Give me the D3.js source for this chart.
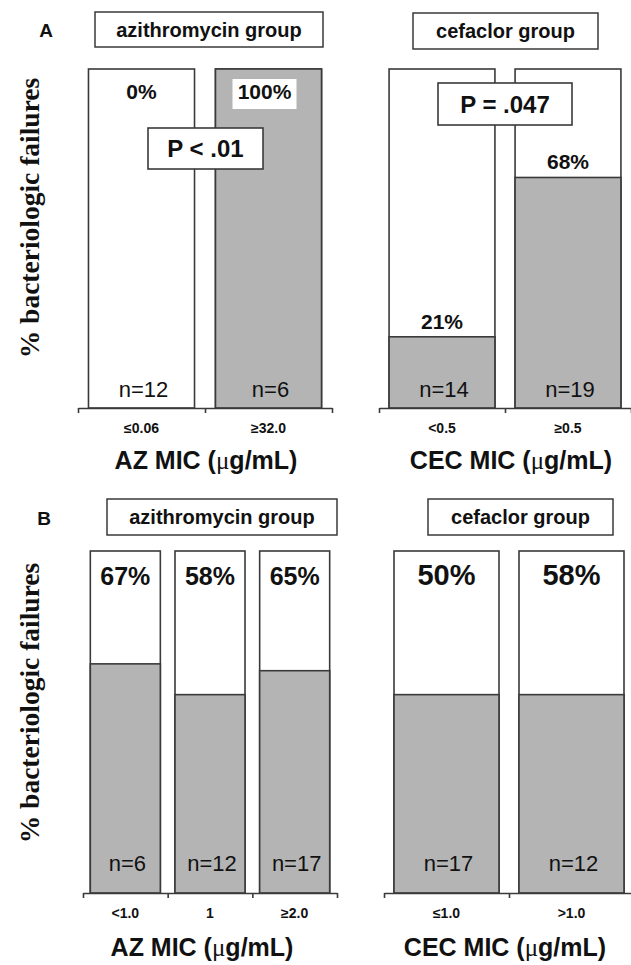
<!DOCTYPE html>
<html>
<head>
<meta charset="utf-8">
<script src="https://cdn.jsdelivr.net/npm/d3@7"></script>
<style>
  html, body { margin: 0; padding: 0; background: #fff; }
  svg { display: block; }
  text { font-family: "Liberation Sans", Arial, Helvetica, sans-serif; fill: #111; }
</style>
</head>
<body>
<svg id="chart" width="631" height="965"></svg>
<script>
// ---------------- DATA ----------------
const groupNames = ["azithromycin group", "cefaclor group"];
const yAxisLabel = "% bacteriologic failures";
const panelLetters = ["A", "B"];

// Panel A (label %, height of shaded bar in %, n)
const azCatsA = ["≤0.06", "≥32.0"];
const azFailA = [0, 100];
const azShadeA = [0, 100];
const azNA = [12, 6];
const cecCatsA = ["<0.5", "≥0.5"];
const cecFailA = [21, 68];
const cecShadeA = [21, 68];
const cecNA = [14, 19];
const pValuesA = ["P < .01", "P = .047"];

// Panel B
const azCatsB = ["<1.0", "1", "≥2.0"];
const azFailB = [67, 58, 65];
const azShadeB = [67, 58, 65];
const azNB = [6, 12, 17];
const cecCatsB = ["≤1.0", ">1.0"];
const cecFailB = [50, 58];
const cecShadeB = [58, 58];
const cecNB = [17, 12];

const axisTitlePrefix = ["AZ MIC (", "CEC MIC ("];
const axisTitleUnit = "μ";
const axisTitleSuffix = "g/mL)";

// ---------------- LAYOUT ----------------
const svg = d3.select("#chart");
const stroke = "#3a3a3a";
const shade = "#b4b4b4";

const rows = [
  { letter: panelLetters[0], top: 69, bottom: 408, letterPos: [46, 37], ylabelY: 218,
    tickY: 433, titleY: 469, labelMode: "above", pctSize: 21, nY: 397,
    panels: [
      { cats: azCatsA, fail: azFailA, shadeV: azShadeA, n: azNA, range: [78, 332], pad: 0.165,
        box: [95, 12, 228, 35], group: groupNames[0], title: axisTitlePrefix[0], titleX: 206,
        pbox: [148, 128, 115, 41], p: pValuesA[0] },
      { cats: cecCatsA, fail: cecFailA, shadeV: cecShadeA, n: cecNA, range: [379, 631], pad: 0.16,
        box: [413, 13, 185, 36], group: groupNames[1], title: axisTitlePrefix[1], titleX: 511,
        pbox: [438, 83, 134, 42], p: pValuesA[1] }
    ]},
  { letter: panelLetters[1], top: 551, bottom: 893, letterPos: [44, 525], ylabelY: 703,
    tickY: 918, titleY: 956, labelMode: "top", nY: 871,
    panels: [
      { cats: azCatsB, fail: azFailB, shadeV: azShadeB, n: azNB, range: [83, 337], pad: 0.173,
        box: [107, 499, 230, 36], group: groupNames[0], title: axisTitlePrefix[0], titleX: 202,
        pctSize: 25 },
      { cats: cecCatsB, fail: cecFailB, shadeV: cecShadeB, n: cecNB, range: [384, 634], pad: 0.16,
        box: [428, 499, 185, 36], group: groupNames[1], title: axisTitlePrefix[1], titleX: 505,
        pctSize: 29 }
    ]}
];

rows.forEach(row => {
  const y = d3.scaleLinear().domain([0, 100]).range([row.bottom, row.top]);

  // Panel letter
  svg.append("text").attr("x", row.letterPos[0]).attr("y", row.letterPos[1])
    .attr("text-anchor", "middle").attr("font-weight", "bold").attr("font-size", 19)
    .text(row.letter);

  // Y axis label
  svg.append("text")
    .attr("transform", `translate(39,${row.ylabelY}) rotate(-90)`)
    .attr("text-anchor", "middle")
    .style("font-family", '"Liberation Serif", "Times New Roman", serif')
    .attr("font-weight", "bold").attr("font-size", 27.5)
    .text(yAxisLabel);

  row.panels.forEach(p => {
    const x = d3.scaleBand().domain(p.cats).range(p.range)
      .paddingInner(p.pad).paddingOuter(p.pad / 2);
    const g = svg.append("g");

    // group title box
    g.append("rect").attr("x", p.box[0]).attr("y", p.box[1])
      .attr("width", p.box[2]).attr("height", p.box[3])
      .attr("fill", "#fff").attr("stroke", stroke).attr("stroke-width", 1.5);
    g.append("text").attr("x", p.box[0] + p.box[2] / 2).attr("y", p.box[1] + p.box[3] / 2 + 7)
      .attr("text-anchor", "middle").attr("font-weight", "bold").attr("font-size", 20)
      .text(p.group);

    const data = p.cats.map((c, i) => ({ cat: c, v: p.fail[i], s: p.shadeV[i], n: p.n[i] }));

    // bar outline (full 100%)
    g.selectAll(".frame").data(data).join("rect")
      .attr("x", d => x(d.cat)).attr("y", y(100))
      .attr("width", x.bandwidth()).attr("height", y(0) - y(100))
      .attr("fill", "#fff").attr("stroke", stroke).attr("stroke-width", 1.6);

    // shaded failures
    g.selectAll(".fill").data(data.filter(d => d.s > 0)).join("rect")
      .attr("x", d => x(d.cat)).attr("y", d => y(d.s))
      .attr("width", x.bandwidth()).attr("height", d => y(0) - y(d.s))
      .attr("fill", shade).attr("stroke", stroke).attr("stroke-width", 1.6);

    // percentage labels
    const pctSize = p.pctSize || row.pctSize;
    data.forEach(d => {
      const cx = x(d.cat) + x.bandwidth() / 2;
      let ty;
      if (row.labelMode === "top" || d.s === 0 || d.s === 100) {
        ty = row.labelMode === "top" ? row.top + 34 : row.top + 30;
      } else {
        ty = y(d.s) - 8;
      }
      if (d.s === 100 && row.labelMode !== "top") {
        g.append("rect").attr("x", cx - 36).attr("y", ty - 20)
          .attr("width", 64).attr("height", 30).attr("fill", "#fff");
        g.append("text").attr("x", cx - 4).attr("y", ty)
          .attr("text-anchor", "middle").attr("font-weight", "bold").attr("font-size", pctSize)
          .text(d.v + "%");
      } else {
        g.append("text").attr("x", cx).attr("y", ty)
          .attr("text-anchor", "middle").attr("font-weight", "bold").attr("font-size", pctSize)
          .text(d.v + "%");
      }
      // n labels
      g.append("text").attr("x", cx + 2).attr("y", row.nY)
        .attr("text-anchor", "middle").attr("font-size", 22)
        .text("n=" + d.n);
    });

    // baseline axis with boundary ticks
    const axisScale = d3.scaleLinear().domain([0, p.cats.length]).range(p.range);
    const axG = g.append("g").attr("transform", `translate(0,${row.bottom})`)
      .call(d3.axisBottom(axisScale).tickValues(d3.range(p.cats.length + 1))
        .tickSize(5).tickSizeOuter(0).tickFormat(""));
    axG.select(".domain").attr("stroke", stroke).attr("stroke-width", 1.6);
    axG.selectAll(".tick line").attr("stroke", stroke).attr("stroke-width", 1.6);

    // category tick labels
    g.selectAll(".cat").data(p.cats).join("text")
      .attr("x", d => x(d) + x.bandwidth() / 2).attr("y", row.tickY)
      .attr("text-anchor", "middle").attr("font-weight", "bold").attr("font-size", 14)
      .text(d => d);

    // axis title
    const t = g.append("text").attr("x", p.titleX).attr("y", row.titleY)
      .attr("text-anchor", "middle").attr("font-weight", "bold").attr("font-size", 25);
    t.append("tspan").text(p.title);
    t.append("tspan").attr("font-weight", "normal")
      .style("font-family", '"Liberation Serif", "Times New Roman", serif').text(axisTitleUnit);
    t.append("tspan").text(axisTitleSuffix);

    // p-value box
    if (p.pbox) {
      g.append("rect").attr("x", p.pbox[0]).attr("y", p.pbox[1])
        .attr("width", p.pbox[2]).attr("height", p.pbox[3])
        .attr("fill", "#fff").attr("stroke", stroke).attr("stroke-width", 1.6);
      g.append("text").attr("x", p.pbox[0] + p.pbox[2] / 2).attr("y", p.pbox[1] + p.pbox[3] / 2 + 8.5)
        .attr("text-anchor", "middle").attr("font-weight", "bold").attr("font-size", 24)
        .text(p.p);
    }
  });
});
</script>
</body>
</html>
